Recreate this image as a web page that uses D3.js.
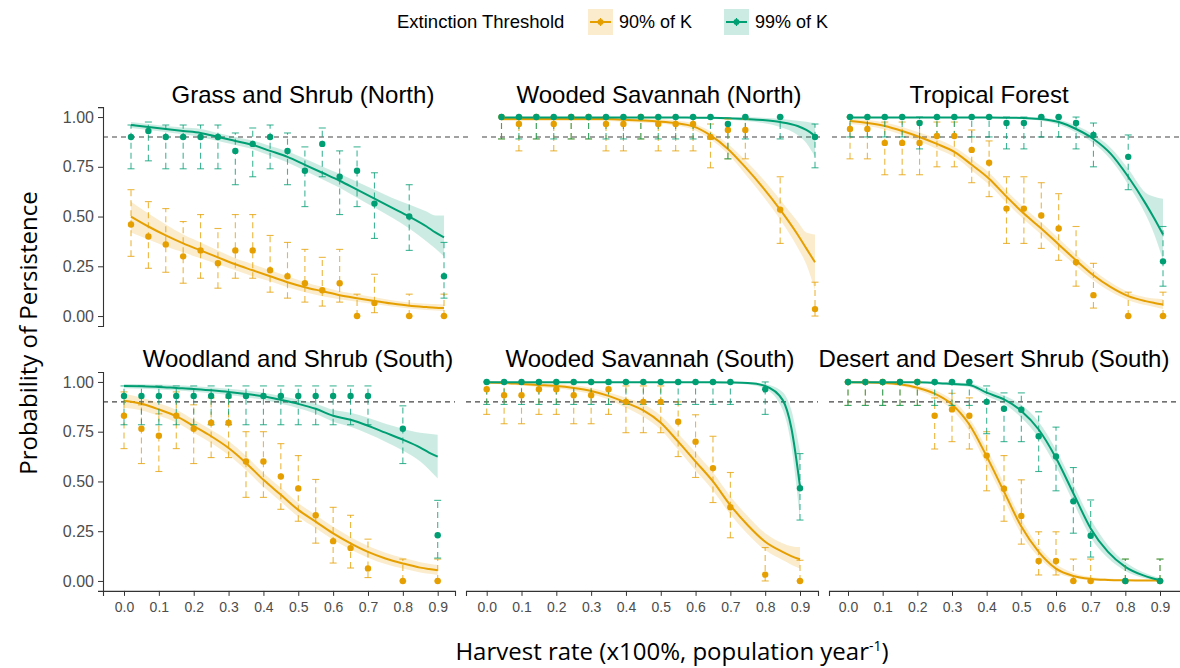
<!DOCTYPE html>
<html><head><meta charset="utf-8">
<script src="https://cdn.jsdelivr.net/npm/d3@7"></script>
<style>body{margin:0;background:#fff}</style>
</head><body>
<svg id="chart" width="1180" height="668"></svg>
<script>
// ---------------- DATA ----------------
const harvestRates = [0,0.05,0.1,0.15,0.2,0.25,0.3,0.35,0.4,0.45,0.5,0.55,0.6,0.65,0.7,0.8,0.9];
const fitRates = [0,0.05,0.1,0.15,0.2,0.25,0.3,0.35,0.4,0.45,0.5,0.55,0.6,0.65,0.7,0.75,0.8,0.85,0.875,0.9];
const xTicks = [0,0.1,0.2,0.3,0.4,0.5,0.6,0.7,0.8,0.9];
const xTickLabels = ["0.0","0.1","0.2","0.3","0.4","0.5","0.6","0.7","0.8","0.9"];
const yTicks = [0,0.25,0.5,0.75,1];
const yTickLabels = ["0.00","0.25","0.50","0.75","1.00"];
const panelTitles = ["Grass and Shrub (North)","Wooded Savannah (North)","Tropical Forest",
  "Woodland and Shrub (South)","Wooded Savannah (South)","Desert and Desert Shrub (South)"];
const seriesNames = ["90% of K","99% of K"];
const legendTitle = "Extinction Threshold";
const thresholdLine = 0.9;

// observed points per harvest rate: [mean, lower, upper]
const gsn90Points = [[0.46,0.30,0.635],[0.40,0.24,0.575],[0.36,0.22,0.54],[0.30,0.165,0.475],[0.33,0.19,0.51],[0.265,0.14,0.44],[0.33,0.19,0.51],[0.33,0.19,0.51],[0.23,0.12,0.405],[0.20,0.09,0.37],[0.165,0.07,0.335],[0.13,0.05,0.295],[0.165,0.07,0.335],[0,0,0.11],[0.065,0.017,0.21],[0,0,0.11],[0,0,0.11]];
const gsn99Points = [[0.90,0.74,0.96],[0.93,0.78,0.975],[0.90,0.74,0.96],[0.90,0.74,0.96],[0.90,0.74,0.96],[0.90,0.74,0.96],[0.83,0.66,0.92],[0.865,0.70,0.945],[0.90,0.74,0.96],[0.83,0.66,0.92],[0.73,0.55,0.85],[0.865,0.70,0.945],[0.70,0.51,0.83],[0.73,0.55,0.85],[0.565,0.39,0.72],[0.50,0.33,0.66],[0.20,0.09,0.37]];
const wsn90Points = [[1,0.89,1],[0.965,0.83,1],[1,0.89,1],[0.965,0.83,1],[1,0.89,1],[1,0.89,1],[0.965,0.83,1],[0.965,0.83,1],[1,0.89,1],[0.965,0.83,1],[0.965,0.83,1],[0.965,0.83,1],[0.90,0.745,0.965],[0.935,0.79,0.99],[0.935,0.79,0.99],[0.535,0.365,0.70],[0.035,0,0.17]];
const wsn99Points = [[1,0.89,1],[1,0.89,1],[1,0.89,1],[1,0.89,1],[1,0.89,1],[1,0.89,1],[1,0.89,1],[1,0.89,1],[1,0.89,1],[1,0.89,1],[1,0.89,1],[1,0.89,1],[1,0.89,1],[0.965,0.79,0.995],[1,0.89,1],[1,0.89,1],[0.90,0.745,0.965]];
const tf90Points = [[0.94,0.79,1],[0.94,0.79,1],[0.87,0.71,0.975],[0.87,0.71,0.975],[0.87,0.71,0.975],[0.905,0.75,0.975],[0.905,0.75,0.975],[0.835,0.67,0.935],[0.77,0.60,0.88],[0.54,0.365,0.70],[0.54,0.365,0.70],[0.505,0.34,0.67],[0.44,0.28,0.615],[0.27,0.15,0.45],[0.105,0.04,0.265],[0,0,0.12],[0,0,0.12]];
const tf99Points = [[1,0.90,1],[1,0.90,1],[1,0.90,1],[1,0.90,1],[0.97,0.84,1],[1,0.90,1],[1,0.90,1],[1,0.90,1],[1,0.90,1],[0.97,0.84,1],[0.97,0.84,1],[1,0.90,1],[1,0.90,1],[0.97,0.84,1],[0.91,0.75,0.97],[0.80,0.635,0.91],[0.275,0.15,0.45]];
const wss90Points = [[0.83,0.665,0.95],[0.765,0.59,0.885],[0.73,0.55,0.84],[0.83,0.665,0.95],[0.765,0.59,0.885],[0.795,0.62,0.92],[0.795,0.62,0.92],[0.60,0.42,0.75],[0.60,0.42,0.75],[0.525,0.36,0.69],[0.465,0.30,0.63],[0.33,0.19,0.51],[0.20,0.09,0.37],[0.165,0.065,0.33],[0.063,0.017,0.21],[0,0,0.11],[0,0,0.11]];
const wss99Points = [[0.93,0.785,0.98],[0.93,0.785,0.98],[0.93,0.785,0.98],[0.93,0.785,0.98],[0.93,0.785,0.98],[0.93,0.785,0.98],[0.93,0.785,0.98],[0.93,0.785,0.98],[0.93,0.785,0.98],[0.93,0.785,0.98],[0.93,0.785,0.98],[0.93,0.785,0.98],[0.93,0.785,0.98],[0.93,0.785,0.98],[0.93,0.785,0.98],[0.765,0.59,0.88],[0.23,0.115,0.405]];
const wvs90Points = [[0.963,0.837,1],[0.933,0.79,1],[0.933,0.79,1],[0.963,0.837,1],[0.963,0.837,1],[0.933,0.79,1],[0.933,0.79,1],[0.963,0.837,1],[0.90,0.745,0.98],[0.90,0.745,0.98],[0.90,0.745,0.98],[0.80,0.625,0.90],[0.70,0.52,0.835],[0.567,0.394,0.727],[0.37,0.217,0.545],[0.032,0,0.168],[0,0,0.104]];
const wvs99Points = [[1,0.887,1],[1,0.887,1],[1,0.887,1],[1,0.887,1],[1,0.887,1],[1,0.887,1],[1,0.887,1],[1,0.887,1],[1,0.887,1],[1,0.887,1],[1,0.887,1],[1,0.887,1],[1,0.887,1],[1,0.887,1],[1,0.887,1],[0.963,0.837,1],[0.466,0.306,0.64]];
const dds90Points = [[1,0.882,1],[1,0.882,1],[1,0.882,1],[1,0.882,1],[1,0.882,1],[0.83,0.663,0.92],[0.862,0.70,0.943],[0.83,0.663,0.92],[0.63,0.453,0.75],[0.463,0.30,0.63],[0.327,0.185,0.508],[0.10,0.03,0.247],[0.10,0.03,0.247],[0,0,0.11],[0,0,0.11],[0,0,0.11],[0,0,0.11]];
const dds99Points = [[1,0.882,1],[1,0.882,1],[1,0.882,1],[1,0.882,1],[1,0.882,1],[1,0.882,1],[1,0.882,1],[1,0.882,1],[0.90,0.74,0.98],[0.865,0.70,0.945],[0.86,0.70,0.945],[0.727,0.55,0.85],[0.626,0.453,0.773],[0.40,0.24,0.57],[0.227,0.12,0.407],[0,0,0.11],[0,0,0.11]];

// fitted curves per fit rate: [fit, lower, upper]
const gsn90Fit = [[0.50,0.42,0.575],[0.45,0.385,0.515],[0.405,0.35,0.46],[0.365,0.32,0.41],[0.33,0.29,0.37],[0.295,0.26,0.33],[0.26,0.23,0.29],[0.23,0.20,0.26],[0.20,0.175,0.23],[0.17,0.145,0.20],[0.145,0.12,0.17],[0.125,0.10,0.147],[0.105,0.085,0.125],[0.09,0.072,0.11],[0.076,0.06,0.095],[0.063,0.048,0.08],[0.052,0.038,0.068],[0.045,0.031,0.062],[0.042,0.028,0.06],[0.04,0.025,0.058]];
const gsn99Fit = [[0.96,0.945,0.975],[0.95,0.935,0.965],[0.94,0.925,0.955],[0.93,0.913,0.947],[0.92,0.90,0.94],[0.90,0.88,0.92],[0.88,0.86,0.90],[0.86,0.838,0.882],[0.83,0.805,0.855],[0.80,0.772,0.828],[0.76,0.73,0.79],[0.72,0.688,0.752],[0.68,0.645,0.715],[0.635,0.595,0.675],[0.59,0.545,0.635],[0.545,0.495,0.595],[0.50,0.44,0.56],[0.45,0.375,0.525],[0.42,0.34,0.505],[0.395,0.30,0.505]];
const wsn90Fit = [[0.99,0.98,1],[0.99,0.98,1],[0.99,0.98,1],[0.99,0.98,1],[0.99,0.98,1],[0.99,0.98,1],[0.99,0.98,0.998],[0.987,0.977,0.997],[0.983,0.972,0.993],[0.978,0.967,0.99],[0.97,0.958,0.983],[0.953,0.938,0.968],[0.908,0.888,0.928],[0.84,0.815,0.865],[0.748,0.713,0.783],[0.647,0.605,0.69],[0.535,0.485,0.585],[0.41,0.345,0.475],[0.34,0.26,0.42],[0.27,0.13,0.41]];
const wsn99Fit = [[0.998,0.995,1],[0.998,0.995,1],[0.998,0.995,1],[0.998,0.995,1],[0.998,0.995,1],[0.998,0.995,1],[0.998,0.995,1],[0.998,0.995,1],[0.998,0.995,1],[0.998,0.995,1],[0.998,0.995,1],[0.997,0.993,1],[0.996,0.99,1],[0.994,0.987,1],[0.99,0.98,1],[0.985,0.97,0.997],[0.975,0.95,0.992],[0.955,0.91,0.982],[0.935,0.87,0.977],[0.905,0.80,0.97]];
const tf90Fit = [[0.98,0.965,0.99],[0.97,0.955,0.985],[0.955,0.937,0.972],[0.93,0.91,0.95],[0.90,0.877,0.922],[0.865,0.84,0.89],[0.825,0.80,0.85],[0.76,0.732,0.788],[0.69,0.66,0.72],[0.60,0.57,0.63],[0.515,0.485,0.545],[0.44,0.41,0.47],[0.36,0.33,0.39],[0.28,0.252,0.308],[0.205,0.18,0.232],[0.145,0.122,0.168],[0.10,0.08,0.12],[0.075,0.055,0.095],[0.066,0.045,0.088],[0.058,0.035,0.085]];
const tf99Fit = [[0.998,0.995,1],[0.998,0.995,1],[0.998,0.995,1],[0.998,0.995,1],[0.998,0.995,1],[0.998,0.995,1],[0.998,0.995,1],[0.998,0.995,1],[0.998,0.994,1],[0.997,0.993,1],[0.995,0.99,1],[0.99,0.982,0.997],[0.975,0.962,0.987],[0.94,0.922,0.958],[0.89,0.868,0.912],[0.815,0.785,0.845],[0.70,0.66,0.74],[0.565,0.51,0.62],[0.49,0.41,0.60],[0.41,0.28,0.59]];
const wss90Fit = [[0.905,0.87,0.94],[0.89,0.857,0.922],[0.862,0.83,0.893],[0.828,0.796,0.86],[0.778,0.745,0.81],[0.727,0.693,0.76],[0.668,0.633,0.703],[0.593,0.558,0.628],[0.508,0.473,0.543],[0.433,0.398,0.468],[0.357,0.322,0.392],[0.298,0.265,0.332],[0.239,0.207,0.272],[0.189,0.158,0.22],[0.146,0.117,0.176],[0.113,0.085,0.142],[0.088,0.062,0.116],[0.067,0.043,0.094],[0.06,0.036,0.087],[0.054,0.03,0.08]];
const wss99Fit = [[0.98,0.968,0.99],[0.978,0.966,0.989],[0.975,0.962,0.987],[0.97,0.957,0.983],[0.965,0.951,0.979],[0.958,0.943,0.973],[0.95,0.934,0.966],[0.94,0.923,0.957],[0.928,0.91,0.946],[0.91,0.89,0.93],[0.89,0.868,0.912],[0.865,0.84,0.89],[0.83,0.80,0.86],[0.81,0.775,0.845],[0.78,0.74,0.82],[0.745,0.70,0.79],[0.71,0.655,0.765],[0.67,0.60,0.745],[0.645,0.56,0.74],[0.625,0.515,0.735]];
const wvs90Fit = [[0.997,0.99,1],[0.995,0.988,1],[0.99,0.982,0.998],[0.985,0.975,0.995],[0.98,0.968,0.99],[0.97,0.956,0.983],[0.955,0.94,0.97],[0.93,0.912,0.948],[0.896,0.87,0.92],[0.857,0.825,0.888],[0.795,0.76,0.83],[0.70,0.66,0.74],[0.60,0.555,0.645],[0.50,0.455,0.545],[0.38,0.335,0.425],[0.28,0.235,0.325],[0.197,0.155,0.24],[0.146,0.105,0.19],[0.125,0.082,0.175],[0.109,0.062,0.17]];
const wvs99Fit = [[0.998,0.995,1],[0.998,0.995,1],[0.998,0.995,1],[0.998,0.995,1],[0.998,0.995,1],[0.998,0.995,1],[0.998,0.995,1],[0.998,0.995,1],[0.998,0.995,1],[0.998,0.995,1],[0.998,0.995,1],[0.998,0.995,1],[0.998,0.995,1],[0.998,0.994,1],[0.997,0.992,1],[0.995,0.987,1],[0.98,0.965,0.99],[0.91,0.86,0.95],[0.77,0.68,0.86],[0.475,0.305,0.65]];
const dds90Fit = [[0.998,0.995,1],[0.997,0.994,1],[0.995,0.99,0.999],[0.988,0.98,0.995],[0.971,0.958,0.982],[0.941,0.922,0.958],[0.887,0.86,0.91],[0.786,0.752,0.818],[0.626,0.585,0.665],[0.449,0.41,0.49],[0.273,0.235,0.31],[0.146,0.12,0.175],[0.062,0.045,0.085],[0.025,0.015,0.04],[0.01,0.004,0.02],[0.005,0.001,0.012],[0.003,0,0.008],[0.002,0,0.006],[0.002,0,0.005],[0.002,0,0.005]];
const dds99Fit = [[0.998,0.995,1],[0.998,0.995,1],[0.998,0.995,1],[0.998,0.995,1],[0.998,0.995,1],[0.995,0.99,0.999],[0.99,0.982,0.997],[0.985,0.975,0.993],[0.946,0.93,0.965],[0.912,0.89,0.932],[0.854,0.82,0.885],[0.761,0.72,0.80],[0.618,0.575,0.66],[0.441,0.395,0.485],[0.264,0.22,0.31],[0.146,0.115,0.18],[0.071,0.05,0.095],[0.029,0.016,0.045],[0.015,0.006,0.028],[0.005,0,0.015]];

// ---------------- LAYOUT ----------------
const colors = ["#E69F00", "#009E73"];
const svg = d3.select("#chart");
const FONT = "'Liberation Sans', Arial, sans-serif";

const rows = [
  d3.scaleLinear().domain([-0.05, 1.05]).range([326, 107.1]),
  d3.scaleLinear().domain([-0.05, 1.05]).range([590.9, 372])
];

const panels = [
  {t:0, row:0, left:103, right:470, x0:131, x9:444, s:[gsn90Points, gsn99Points], f:[gsn90Fit, gsn99Fit], tx:303},
  {t:1, row:0, left:482, right:822, x0:501.5, x9:815, s:[wsn90Points, wsn99Points], f:[wsn90Fit, wsn99Fit], tx:659},
  {t:2, row:0, left:832, right:1180, x0:850, x9:1163, s:[tf90Points, tf99Points], f:[tf90Fit, tf99Fit], tx:989},
  {t:3, row:1, left:103, right:455, x0:124, x9:437.7, s:[wss90Points, wss99Points], f:[wss90Fit, wss99Fit], tx:298},
  {t:4, row:1, left:466, right:818, x0:486.7, x9:800, s:[wvs90Points, wvs99Points], f:[wvs90Fit, wvs99Fit], tx:650},
  {t:5, row:1, left:829, right:1181, x0:848, x9:1160, s:[dds90Points, dds99Points], f:[dds90Fit, dds99Fit], tx:994}
];

panels.forEach((p, pi) => {
  const y = rows[p.row];
  const base = d3.scaleLinear().domain([0, 0.9]).range([p.x0, p.x9]);
  const x = d3.scaleLinear().domain([base.invert(p.left), base.invert(p.right)]).range([p.left, p.right]);
  const g = svg.append("g");

  // title
  g.append("text").attr("x", p.tx).attr("y", p.row === 0 ? 103 : 367)
    .attr("text-anchor", "middle").attr("font-family", FONT).attr("font-size", 24)
    .attr("fill", "#000").text(panelTitles[p.t]);

  // threshold line
  g.append("line").attr("x1", p.left).attr("x2", p.right)
    .attr("y1", y(thresholdLine)).attr("y2", y(thresholdLine))
    .attr("stroke", "#444").attr("stroke-width", 1.1).attr("stroke-dasharray", "5,4");

  // ribbons
  p.f.forEach((fit, si) => {
    const area = d3.area().x((d, i) => x(fitRates[i])).y0(d => y(d[1])).y1(d => y(d[2])).curve(d3.curveMonotoneX);
    g.append("path").datum(fit).attr("d", area).attr("fill", colors[si]).attr("fill-opacity", 0.2);
  });
  // fitted lines
  p.f.forEach((fit, si) => {
    const line = d3.line().x((d, i) => x(fitRates[i])).y(d => y(d[0])).curve(d3.curveMonotoneX);
    g.append("path").datum(fit).attr("d", line).attr("fill", "none")
      .attr("stroke", colors[si]).attr("stroke-width", 2);
  });
  // error bars
  p.s.forEach((pts, si) => {
    const eg = g.append("g").attr("stroke", colors[si]).attr("stroke-width", 1.1).attr("stroke-opacity", 0.75);
    pts.forEach((d, i) => {
      const cx = x(harvestRates[i]);
      eg.append("line").attr("x1", cx).attr("x2", cx).attr("y1", y(d[1])).attr("y2", y(d[2]))
        .attr("stroke-dasharray", "6,4");
      [d[1], d[2]].forEach(v => {
        eg.append("line").attr("x1", cx - 3.5).attr("x2", cx + 3.5).attr("y1", y(v)).attr("y2", y(v));
      });
    });
  });
  // points
  p.s.forEach((pts, si) => {
    g.append("g").selectAll("circle").data(pts).join("circle")
      .attr("cx", (d, i) => x(harvestRates[i])).attr("cy", d => y(d[0]))
      .attr("r", 3.2).attr("fill", colors[si]);
  });

  // y axis (first column)
  if (p.left < 110) {
    const ax = g.append("g").attr("transform", `translate(${p.left},0)`)
      .call(d3.axisLeft(y).tickValues(yTicks).tickSize(5).tickPadding(4)
        .tickFormat((d, i) => yTickLabels[i]));
    ax.select(".domain").attr("stroke", "#333").attr("stroke-width", 1.1);
    ax.selectAll(".tick line").attr("stroke", "#333");
    ax.selectAll(".tick text").attr("font-family", FONT).attr("font-size", 16).attr("fill", "#4d4d4d");
  }
  // x axis (bottom row)
  if (p.row === 1) {
    const ax = g.append("g").attr("transform", `translate(0,${y.range()[0]})`)
      .call(d3.axisBottom(x).tickValues(xTicks).tickSize(5).tickPadding(6)
        .tickFormat((d, i) => xTickLabels[i]));
    ax.select(".domain").attr("stroke", "#333").attr("stroke-width", 1.1);
    ax.selectAll(".tick line").attr("stroke", "#333");
    ax.selectAll(".tick text").attr("font-family", FONT).attr("font-size", 14).attr("fill", "#4d4d4d");
  }
});

// axis titles
svg.append("text").attr("transform", "translate(37,333) rotate(-90)")
  .attr("text-anchor", "middle").attr("font-family", "'Open Sans', 'Noto Sans', sans-serif")
  .attr("font-size", 24).attr("fill", "#000").text("Probability of Persistence");
const xt = svg.append("text").attr("x", 672).attr("y", 660).attr("text-anchor", "middle")
  .attr("font-family", "'Open Sans', 'Noto Sans', sans-serif").attr("font-size", 24).attr("fill", "#000");
xt.append("tspan").text("Harvest rate (x100%, population year");
xt.append("tspan").attr("dy", -9).attr("font-size", 14).text("-1");
xt.append("tspan").attr("dy", 9).text(")");

// legend
const lg = svg.append("g");
lg.append("text").attr("x", 397).attr("y", 28).attr("font-family", FONT).attr("font-size", 18.5)
  .attr("fill", "#000").text(legendTitle);
const keyX = [588, 724];
seriesNames.forEach((name, si) => {
  const kx = keyX[si];
  lg.append("rect").attr("x", kx).attr("y", 9).attr("width", 25).attr("height", 26)
    .attr("fill", colors[si]).attr("fill-opacity", 0.2);
  lg.append("line").attr("x1", kx + 2).attr("x2", kx + 23).attr("y1", 22).attr("y2", 22)
    .attr("stroke", colors[si]).attr("stroke-width", 2);
  lg.append("line").attr("x1", kx + 12.5).attr("x2", kx + 12.5).attr("y1", 18).attr("y2", 26)
    .attr("stroke", colors[si]).attr("stroke-width", 1.2);
  lg.append("circle").attr("cx", kx + 12.5).attr("cy", 22).attr("r", 3).attr("fill", colors[si]);
  lg.append("text").attr("x", kx + 31).attr("y", 28).attr("font-family", FONT).attr("font-size", 18)
    .attr("fill", "#000").text(name);
});
</script>
</body></html>
